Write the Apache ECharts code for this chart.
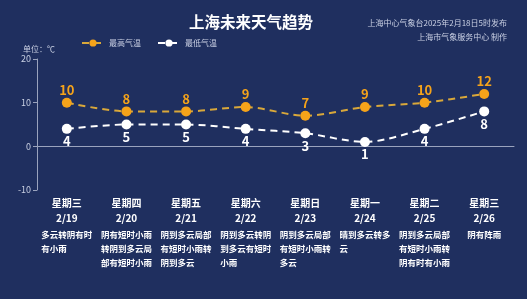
<!DOCTYPE html>
<html>
<head>
<meta charset="utf-8">
<script src="https://cdn.jsdelivr.net/npm/echarts@6/dist/echarts.min.js"></script>
<style>
  html, body { margin: 0; padding: 0; background: #1f2f5f; }
  #chart { width: 527px; height: 299px; }
</style>
</head>
<body>
<div id="chart"></div>
<script>
const weekdays = ['星期三', '星期四', '星期五', '星期六', '星期日', '星期一', '星期二', '星期三']
const dates = ['2/19', '2/20', '2/21', '2/22', '2/23', '2/24', '2/25', '2/26']
// weather text, split into lines as in the picture
const weather = [
  ['多云转阴有时', '有小雨'],
  ['阴有短时小雨', '转阴到多云局', '部有短时小雨'],
  ['阴到多云局部', '有短时小雨转', '阴到多云'],
  ['阴到多云转阴', '到多云有短时', '小雨'],
  ['阴到多云局部', '有短时小雨转', '多云'],
  ['晴到多云转多', '云'],
  ['阴到多云局部', '有短时小雨转', '阴有时有小雨'],
  ['阴有阵雨']
]
const highTemp = [10, 8, 8, 9, 7, 9, 10, 12]
const lowTemp = [4, 5, 5, 4, 3, 1, 4, 8]
const yTicks = { min: -10, max: 20, interval: 10 }

const categories = dates.map((d, i) => i)

const chart = echarts.init(document.getElementById('chart'))

const subStyle = { color: '#c9d0e3', fontSize: 8, fontWeight: 'normal' }

const option = {
  backgroundColor: '#1f2f5f',
  textStyle: { fontFamily: '"Noto Sans CJK SC", "Noto Sans", sans-serif' },
  title: [
    {
      text: '上海未来天气趋势',
      left: 184,
      top: 9,
      textStyle: { color: '#ffffff', fontSize: 15.5, fontWeight: 'bold' }
    },
    { text: '上海中心气象台2025年2月18日5时发布', right: 15, top: 14, textStyle: subStyle },
    { text: '上海市气象服务中心 制作', right: 15, top: 28, textStyle: subStyle },
    { text: '单位：℃', left: 18, top: 40, textStyle: subStyle }
  ],
  legend: {
    left: 76,
    top: 34,
    itemWidth: 22,
    itemHeight: 9,
    itemGap: 16,
    textStyle: { color: '#c9d0e3', fontSize: 8 },
    data: ['最高气温', '最低气温']
  },
  grid: {
    left: 37,
    right: 13,
    top: 59,
    bottom: 109
  },
  xAxis: {
    type: 'category',
    data: categories,
    axisLine: { lineStyle: { color: '#9aa3bd', width: 1 } },
    axisTick: { length: 33, lineStyle: { color: '#9aa3bd' } },
    axisLabel: {
      margin: 6,
      interval: 0,
      formatter: (v) => {
        const i = Number(v)
        const lines = weather[i].map(t => '{d|' + t + '}').join('\n')
        return '{a|' + weekdays[i] + '}\n{a|' + dates[i] + '}\n{gap|}\n' + lines
      },
      rich: {
        a: { color: '#ffffff', fontSize: 10, fontWeight: 'bold', lineHeight: 15, align: 'center' },
        gap: { height: 2, lineHeight: 2 },
        d: { color: '#ffffff', fontSize: 8.5, fontWeight: 'bold', lineHeight: 14, align: 'left' }
      }
    }
  },
  yAxis: {
    type: 'value',
    min: yTicks.min,
    max: yTicks.max,
    interval: yTicks.interval,
    axisLine: { show: true, lineStyle: { color: '#9aa3bd' } },
    axisTick: { show: true, length: 4, lineStyle: { color: '#9aa3bd' } },
    axisLabel: { color: '#c9d0e3', fontSize: 9, margin: 6 },
    splitLine: { show: false }
  },
  series: [
    {
      name: '最高气温',
      type: 'line',
      smooth: 0.3,
      symbol: 'circle',
      symbolSize: 10,
      data: highTemp,
      itemStyle: { color: '#f5a31a' },
      lineStyle: { color: '#d9a83a', width: 2, type: [7, 5] },
      label: {
        show: true,
        position: 'top',
        distance: 1,
        color: '#f5a31a',
        fontSize: 13,
        fontWeight: 'bold'
      }
    },
    {
      name: '最低气温',
      type: 'line',
      smooth: 0.3,
      symbol: 'circle',
      symbolSize: 10,
      data: lowTemp,
      itemStyle: { color: '#ffffff' },
      lineStyle: { color: '#ffffff', width: 2, type: [7, 5] },
      label: {
        show: true,
        position: 'bottom',
        distance: 1,
        color: '#ffffff',
        fontSize: 13,
        fontWeight: 'bold'
      }
    }
  ]
}

chart.setOption(option)
</script>
</body>
</html>
